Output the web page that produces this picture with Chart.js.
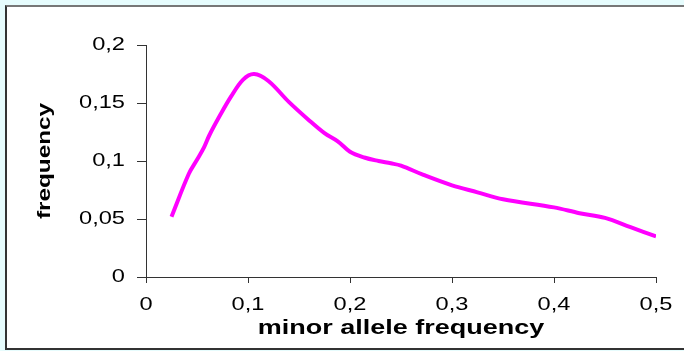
<!DOCTYPE html>
<html>
<head>
<meta charset="utf-8">
<title>minor allele frequency</title>
<script src="https://cdn.jsdelivr.net/npm/chart.js@4.4.1/dist/chart.umd.min.js"></script>
<style>
  html, body { margin: 0; padding: 0; }
  body { width: 684px; height: 351px; background: #e6fcfd; position: relative; overflow: hidden; }
  #frame {
    position: absolute; left: 5px; top: 5px; width: 700px; height: 341px;
    background: #fff;
    border-top: 2px solid #777; border-left: 2px solid #333; border-bottom: 2px solid #333;
  }
  #chart { position: absolute; left: 0; top: 0; }
</style>
</head>
<body>
<div id="frame"></div>
<canvas id="chart" width="684" height="351"></canvas>
<script>
// Minor allele frequency spectrum
const maf = [0.025, 0.042, 0.05, 0.057, 0.062, 0.073, 0.083, 0.095, 0.106, 0.12,
             0.14, 0.16, 0.175, 0.188, 0.2, 0.214, 0.228, 0.24, 0.25, 0.272,
             0.3, 0.325, 0.35, 0.4, 0.425, 0.45, 0.475, 0.5];
const freq = [0.052, 0.089, 0.101, 0.112, 0.122, 0.140, 0.155, 0.170, 0.175, 0.169,
              0.151, 0.135, 0.124, 0.117, 0.108, 0.103, 0.100, 0.098, 0.096, 0.088,
              0.079, 0.073, 0.067, 0.060, 0.055, 0.051, 0.043, 0.035];
const xTicks = [0, 0.1, 0.2, 0.3, 0.4, 0.5];
const yTicks = [0, 0.05, 0.1, 0.15, 0.2];

const AXIS = "#333";
const TEXT_STRETCH = 1.35; // wide lettering

// decimal comma labels
const fmt = v => v === 0 ? "0" : String(Number(v.toFixed(2))).replace(".", ",");

const canvas = document.getElementById("chart");
const ctx = canvas.getContext("2d");

// draw all text horizontally widened around its anchor
const baseFill = CanvasRenderingContext2D.prototype.fillText;
ctx.fillText = function (text, x, y) {
  this.save();
  this.translate(x, y);
  this.scale(TEXT_STRETCH, 1);
  baseFill.call(this, text, 0, 0);
  this.restore();
};

const points = maf.map((x, i) => ({ x, y: freq[i] }));

new Chart(ctx, {
  type: "scatter",
  data: {
    datasets: [{
      data: points,
      showLine: true,
      borderColor: "#ff00ff",
      borderWidth: 4,
      pointRadius: 0,
      tension: 0.35,
      fill: false,
    }],
  },
  options: {
    responsive: false,
    devicePixelRatio: 1,
    animation: false,
    layout: { padding: { left: 0, top: 45, right: 28, bottom: 0 } },
    plugins: { legend: { display: false }, tooltip: { enabled: false } },
    scales: {
      x: {
        type: "linear",
        min: 0,
        max: 0.5,
        afterBuildTicks: s => { s.ticks = xTicks.map(value => ({ value })); },
        afterFit: s => { s.height = 74; },
        grid: { drawOnChartArea: false, color: AXIS, tickLength: 6 },
        border: { color: AXIS, width: 1 },
        ticks: {
          color: "#000",
          padding: 12,
          maxRotation: 0,
          font: { family: "'Liberation Sans', Arial, sans-serif", size: 17.5 },
          callback: v => fmt(v),
        },
        title: {
          display: true,
          text: "minor allele frequency",
          color: "#000",
          padding: { top: 0, bottom: 11 },
          font: { family: "'Liberation Sans', Arial, sans-serif", size: 20, weight: "bold" },
        },
      },
      y: {
        min: 0,
        max: 0.2,
        afterBuildTicks: s => { s.ticks = yTicks.map(value => ({ value })); },
        afterFit: s => { s.width = 146; },
        grid: { drawOnChartArea: false, color: AXIS, tickLength: 9 },
        border: { color: AXIS, width: 1 },
        ticks: {
          color: "#000",
          padding: 12,
          font: { family: "'Liberation Sans', Arial, sans-serif", size: 17.5 },
          callback: v => fmt(v),
        },
        title: {
          display: true,
          text: "frequency",
          color: "#000",
          padding: { top: 34, bottom: 0 },
          font: { family: "'Liberation Sans', Arial, sans-serif", size: 18, weight: "bold" },
        },
      },
    },
  },
});
</script>
</body>
</html>
